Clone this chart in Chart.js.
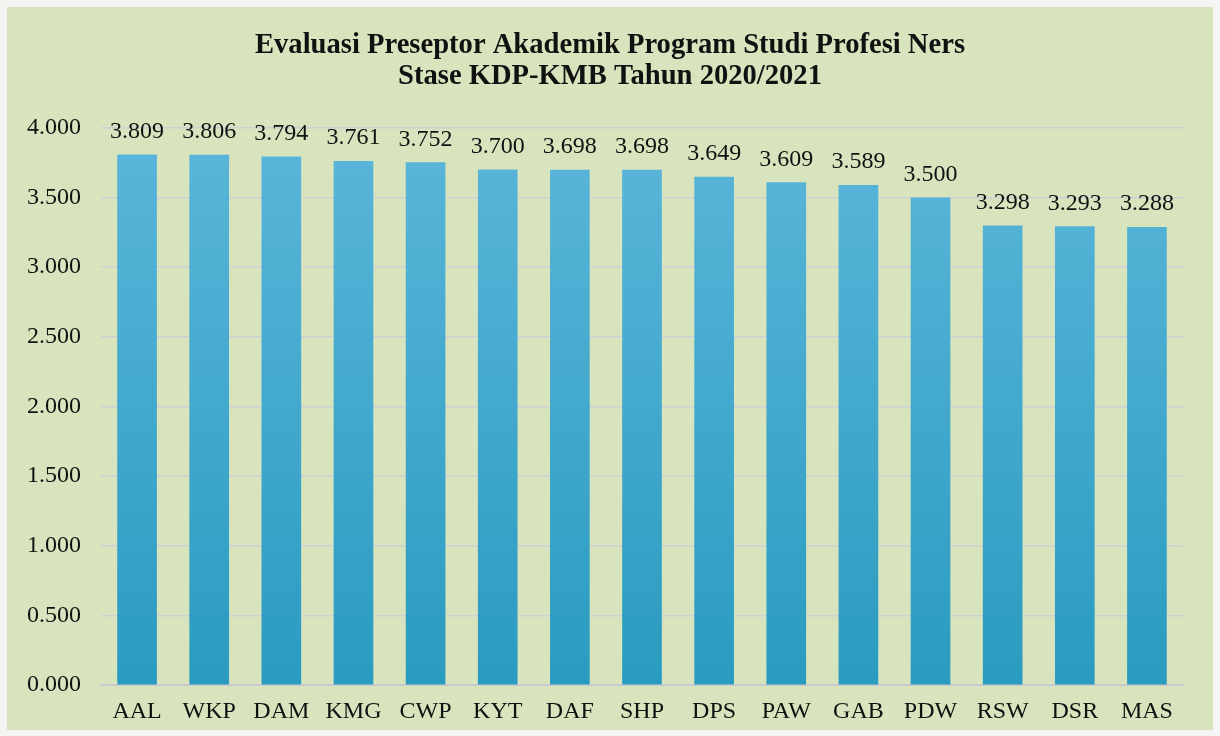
<!DOCTYPE html>
<html>
<head>
<meta charset="utf-8">
<script src="https://cdn.jsdelivr.net/npm/chart.js@4.4.1/dist/chart.umd.min.js"></script>
<style>
  html, body { margin: 0; padding: 0; background: #f4f4f2; }
  #wrap { position: absolute; left: 7px; top: 7px; width: 1206px; height: 723px; background: #d8e4bd; }
</style>
</head>
<body>
<div id="wrap"><canvas id="chart" width="1206" height="723"></canvas></div>
<script>
  const labels = ['AAL','WKP','DAM','KMG','CWP','KYT','DAF','SHP','DPS','PAW','GAB','PDW','RSW','DSR','MAS'];
  const scores = [3.809, 3.806, 3.794, 3.761, 3.752, 3.700, 3.698, 3.698, 3.649, 3.609, 3.589, 3.500, 3.298, 3.293, 3.288];
  const titleLines = ['Evaluasi Preseptor Akademik Program Studi Profesi Ners', 'Stase KDP-KMB Tahun 2020/2021'];

  const serif = "'Liberation Serif', 'Times New Roman', serif";

  // label nilai di atas batang
  const valueLabels = {
    id: 'valueLabels',
    afterDatasetsDraw(chart){
      const ctx = chart.ctx;
      const meta = chart.getDatasetMeta(0);
      ctx.save();
      ctx.font = '24px ' + serif;
      ctx.fillStyle = '#111';
      ctx.textAlign = 'center';
      ctx.textBaseline = 'bottom';
      meta.data.forEach((bar, i)=>{
        ctx.fillText(scores[i].toFixed(3), bar.x, bar.y - 11);
      });
      ctx.restore();
    }
  };

  function barFill(c){
    const area = c.chart.chartArea;
    if(!area) return '#3aa9cf';
    const g = c.chart.ctx.createLinearGradient(0, area.top, 0, area.bottom);
    g.addColorStop(0, '#5bb6da');
    g.addColorStop(1, '#2a9bc0');
    return g;
  }

  new Chart(document.getElementById('chart'), {
    type: 'bar',
    data: {
      labels: labels,
      datasets: [{ data: scores, backgroundColor: barFill, borderWidth: 0, barPercentage: 0.55, categoryPercentage: 1 }]
    },
    options: {
      responsive: false,
      animation: false,
      layout: { padding: 0 },
      plugins: {
        legend: { display: false },
        tooltip: { enabled: false },
        title: {
          display: true,
          text: titleLines,
          color: '#111',
          font: { family: serif, size: 28.6, weight: 'bold', lineHeight: 1.08 },
          padding: { top: 23, bottom: 36 }
        }
      },
      scales: {
        x: {
          grid: { display: false },
          border: { color: '#c9c9cf', width: 2 },
          ticks: { color: '#111', font: { family: serif, size: 24 }, padding: 4 }
        },
        y: {
          min: 0, max: 4,
          grid: { color: '#cfd0d6', lineWidth: 1.5, drawTicks: false },
          border: { display: false },
          ticks: { stepSize: 0.5, color: '#111', font: { family: serif, size: 24 }, padding: 20,
                   callback: v => Number(v).toFixed(3) }
        },
        // ruang kosong di kanan supaya judul tetap di tengah
        yRight: {
          position: 'right', min: 0, max: 4,
          grid: { display: false }, border: { display: false },
          ticks: { display: false },
          afterFit: s => { s.width = 30; }
        }
      }
    },
    plugins: [valueLabels]
  });
</script>
</body>
</html>
